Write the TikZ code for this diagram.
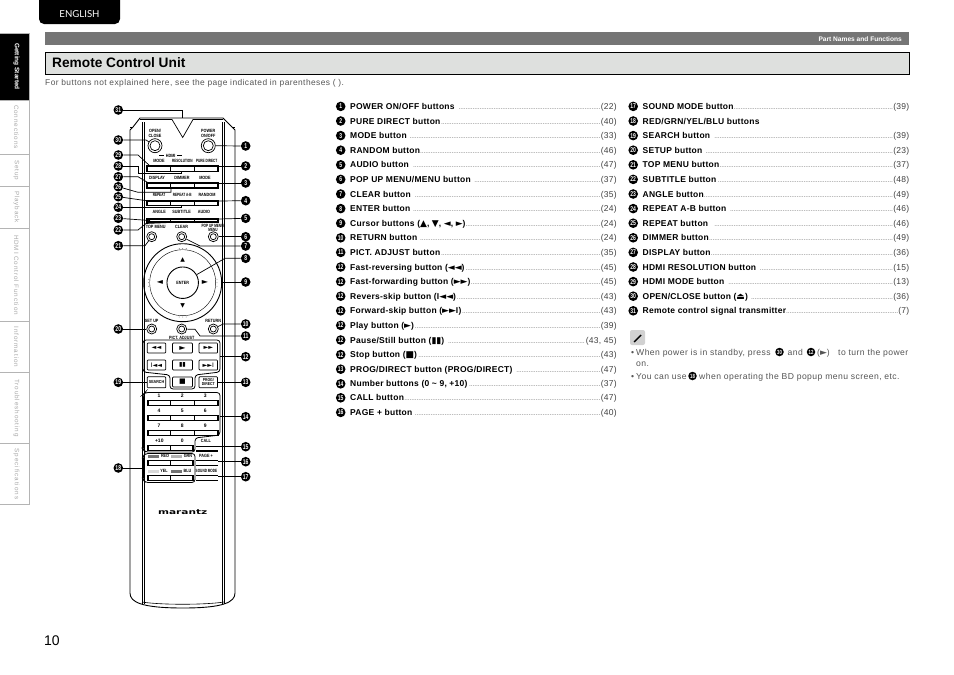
\documentclass[tikz,border=0pt]{standalone}
\usepackage{fontspec}
\usepackage{graphicx}
\setmainfont{Liberation Sans}
\newfontfamily\symf{DejaVu Sans}
\newfontfamily\engf{Lato}
\newfontfamily\tabf[LetterSpace=14]{Liberation Sans}
\newfontfamily\notef[LetterSpace=5]{Liberation Sans}
\newfontfamily\listf[LetterSpace=3]{Liberation Sans}
\newfontfamily\lblf[FakeStretch=0.82]{Liberation Sans}
\newfontfamily\lblnf[FakeStretch=0.68]{Liberation Sans}
\newfontfamily\logof{DejaVu Sans}
\definecolor{tabgrey}{HTML}{B4B4B4}
\definecolor{tabtext}{HTML}{A8A8A8}
\definecolor{bargrey}{HTML}{757575}
\definecolor{titlegrey}{HTML}{DEE0DE}
\definecolor{notegrey}{HTML}{555555}
\newcommand\sz[1]{\fontsize{#1}{#1}\selectfont}
\newcommand\sy[1]{{\symf\sz{9}#1}}
\newcommand\syb[1]{{\symf\sz{6.2}#1}}
\newcommand\ldr{\textcolor{gray}{\leaders\hbox to 1.75pt{\hss\sz{5}.\hss}\hfil}}
\newcommand\numtxt[1]{\scalebox{.72}[1]{\bfseries #1}}
\newcommand\ent[5]{%  number, x, y, label, page
  \node[numc] (L#1) at (#2,#3) {\numtxt{#1}};
  \node[entrytext] (T#1) at (#2+9.3,#3+3) {\hbox to 266.5pt{\bfseries #4\ldr\textcolor{black!75}{\mdseries #5}}};}
\newcommand\entb[5]{%  name, x, y, printed number, whole line
  \node[numc] (L#1b) at (#2,#3) {\numtxt{#4}};
  \node[entrytext] (T#1b) at (#2+9.3,#3+3) {\hbox to 266.5pt{\bfseries #5}};}
\newcommand\barrow[5]{% name, x1, x2, y1, y2
  \draw[barline] (#2,#4) rectangle (#3,#5);
  \node[coordinate] (#1) at ({(#2+#3)/2},#5) {};}
\tikzset{
  x=1pt,y=-1pt,
  numc/.style={circle,fill=black,text=white,inner sep=0pt,minimum size=9.6pt,font=\sz{7}},
  entrytext/.style={anchor=base west,inner sep=0pt,font=\listf\sz{8.5}},
  tabtxt/.style={rotate=-90,inner sep=0pt,text=tabtext,font=\tabf\sz{6.3}},
  lead/.style={line width=.7pt,black},
  barline/.style={line width=1.4pt,black},
  cell/.style={line width=1.1pt,black},
  rbtn/.style={draw,line width=.7pt,rounded corners=.8pt,inner sep=0pt,minimum width=18.5pt,minimum height=10pt},
  lbl/.style={inner sep=0pt,font=\lblf\bfseries\sz{4.6},align=center},
  lbln/.style={inner sep=0pt,font=\lblnf\bfseries\sz{4.6},align=center},
  ring/.style={circle,draw,line width=.7pt,inner sep=0pt},
  notetxt/.style={anchor=base west,inner sep=0pt,text=notegrey,font=\notef\sz{8.6}},
  smallnum/.style={circle,fill=black,text=white,inner sep=0pt,minimum size=8.5pt,font=\sz{6}},
}
\begin{document}
\begin{tikzpicture}
\useasboundingbox (0,0) rectangle (954,675);
\fill[white] (0,0) rectangle (954,675);
% header
\path[fill=black,rounded corners=5pt] (39,-8) rectangle (120,24);
\node[inner sep=0pt,text=white,font=\engf\sz{9.6}] (lang) at (79.5,14) {ENGLISH};
\node[fill=bargrey,minimum width=864pt,minimum height=13pt,inner sep=0pt,anchor=north west] (bar) at (45,32) {};
\node[anchor=east,inner sep=0pt,text=white,font=\bfseries\sz{6.6}] (partn) at (902,38.7) {Part Names and Functions};
\node[fill=titlegrey,draw=black,line width=1.3pt,minimum width=864pt,minimum height=22pt,inner sep=0pt,anchor=north west] (titlebox) at (45,52) {};
\node[anchor=west,inner sep=0pt,font=\bfseries\sz{13.7}] (title) at (52,62.5) {Remote Control Unit};
\node[anchor=west,inner sep=0pt,text=notegrey,font=\notef\sz{8.4}] (sub) at (45,83) {For buttons not explained here, see the page indicated in parentheses ( ).};
\node[anchor=west,inner sep=0pt,font=\sz{14}] (pageno) at (44,641) {10};
% side tabs
\fill[black] (0,33) rectangle (29.5,100.5);
\draw[tabgrey,line width=.9pt] (0,33) -- (29.5,33);
\draw[tabgrey,line width=.9pt] (29.5,33) -- (29.5,504.3) -- (0,504.3);
\foreach \yy in {100.5,154,186,228,321.7,372.7,443.3} \draw[tabgrey,line width=.8pt] (0,\yy) -- (29.5,\yy);
\node[rotate=-90,inner sep=0pt,text=white,font=\bfseries\sz{6.5}] (tab1) at (16.5,66.5) {Getting Started};
\node[tabtxt] (tab2) at (16.5,127) {Connections};
\node[tabtxt] (tab3) at (16.5,170) {Setup};
\node[tabtxt] (tab4) at (16.5,207) {Playback};
\node[tabtxt] (tab5) at (16.5,275) {HDMI Control Function};
\node[tabtxt] (tab6) at (16.5,347) {Information};
\node[tabtxt] (tab7) at (16.5,408) {Troubleshooting};
\node[tabtxt] (tab8) at (16.5,474) {Specifications};
% remote body
\draw[line width=.9pt] (130,593) -- (130,130) -- (133,127) -- (140,118) -- (223,118) -- (232,127) -- (235,130) -- (235,593)
  .. controls (235,602) and (224,608) .. (183,608) .. controls (141,608) and (130,602) .. (130,593);
\draw[line width=.7pt] (130,127) -- (133,127) (232,127) -- (235,127);
\draw[line width=.7pt] (140,119.5) -- (172,119.5) -- (182.7,137.5) -- (193,119.5) -- (223,119.5);
\draw[line width=.7pt] (142,122) -- (142,604);
\draw[line width=.6pt] (144,122) -- (144,604);
\draw[line width=.7pt] (222,122) -- (222,604);
\draw[line width=.6pt] (224,122) -- (224,604);
\draw[line width=.6pt] (142,602) .. controls (160,605) and (205,605) .. (224,602);
% top buttons
\node[ring,minimum size=14pt] (openc) at (155,145.7) {};
\node[ring,minimum size=10pt] at (155,145.7) {};
\node[ring,minimum size=14pt] (powerc) at (208.3,145.7) {};
\node[ring,minimum size=10pt] at (208.3,145.7) {};
\node[lbl] (l1) at (155,133.5) {OPEN/\\[-.2pt]CLOSE};
\node[lbl] (l2) at (208.3,133.5) {POWER\\[-.2pt]ON/OFF};
\node[lbl] (l3) at (170.7,155.7) {HDMI};
\draw[line width=.5pt] (159,155.7) -- (164,155.7) (177,155.7) -- (182,155.7);
\node[lbl] (l4) at (159,160.9) {MODE};
\node[lbln] (l5) at (182.3,160.9) {RESOLUTION};
\node[lbln] (l6) at (206.7,160.9) {PURE DIRECT};
\node[lbl] (l7) at (157,178) {DISPLAY};
\node[lbl] (l8) at (182,178) {DIMMER};
\node[lbl] (l9) at (205,178) {MODE};
\node[lbln] (l10) at (159,195) {REPEAT};
\node[lbln] (l11) at (182.3,195) {REPEAT A-B};
\node[lbl] (l12) at (207,195) {RANDOM};
\node[lbl] (l13) at (159.3,212) {ANGLE};
\node[lbl] (l14) at (181.7,212) {SUBTITLE};
\node[lbl] (l15) at (204,212) {AUDIO};
\node[lbl] (l16) at (155.7,227.3) {TOP MENU};
\node[lbl] (l17) at (181.7,227.3) {CLEAR};
\node[lbln] (l18) at (213,227.7) {POP UP MENU/\\[-.2pt]MENU};
% bar rows
\barrow{r1}{147}{218}{166}{171.7}
\barrow{r2}{147}{218}{183}{188}
\barrow{r3}{147}{218}{201}{205.5}
\barrow{r4}{147}{218}{219}{222}
\foreach \yy/\zz in {166/171.7,183/188,201/205.5,219/222}
  \draw[cell] (170.7,\yy) -- (170.7,\zz) (194.3,\yy) -- (194.3,\zz);
% round buttons
\node[ring,minimum size=10pt] (topm) at (151.7,236.7) {};
\node[ring,minimum size=10pt] (clr) at (181.7,236.7) {};
\node[ring,minimum size=10pt] (popm) at (213.3,236.7) {};
\node[ring,minimum size=6pt] at (151.7,236.7) {};
\node[ring,minimum size=6pt] at (181.7,236.7) {};
\node[ring,minimum size=6pt] at (213.3,236.7) {};
% d-pad
\node[ring,minimum size=78pt,line width=.9pt] (dpad) at (182.7,282.7) {};
\node[ring,minimum size=66pt,line width=.4pt] (dpad2) at (182.7,282.7) {};
\node[ring,minimum size=31.5pt,line width=.9pt] (enter) at (182.7,282.7) {};
\node[lbl] (entl) at (182.7,282.7) {ENTER};
\node[inner sep=0pt,font=\symf\sz{6}] (au) at (182.7,259.5) {▲};
\node[inner sep=0pt,font=\symf\sz{6}] (ad) at (182.7,305.5) {▼};
\node[inner sep=0pt,font=\symf\sz{8}] (al) at (160,282.7) {◄};
\node[inner sep=0pt,font=\symf\sz{8}] (ar) at (205,282.7) {►};
\foreach \dx in {-3.5,0,3.5} {
  \fill[black!70] (182.7+\dx,248.5) circle (.45pt);
  \fill[black!70] (182.7+\dx,317) circle (.45pt);
  \fill[black!70] (148.5,282.7+\dx) circle (.45pt);
  \fill[black!70] (217,282.7+\dx) circle (.45pt);
}
% middle round buttons
\node[ring,minimum size=10pt] (setp) at (151.7,329) {};
\node[ring,minimum size=10pt] (pict) at (181.7,329) {};
\node[ring,minimum size=10pt] (ret) at (213.3,329) {};
\node[ring,minimum size=6pt] at (151.7,329) {};
\node[ring,minimum size=6pt] at (181.7,329) {};
\node[ring,minimum size=6pt] at (213.3,329) {};
\node[lbl] (l19) at (151.7,321) {SET UP};
\node[lbl] (l20) at (213.3,321) {RETURN};
\node[lbl] (l21) at (181.7,337.5) {PICT. ADJUST};
% transport group
\draw[line width=.8pt,rounded corners=3pt] (143,340) -- (220,340) -- (220,372) -- (195,375) -- (195,389) -- (170,389) -- (170,375) -- (143,372) -- cycle;
\node[rbtn] (b1) at (156.5,348) {\syb{◄◄}};
\node[rbtn,minimum width=20pt] (b2) at (182.5,348) {\symf\sz{8}►};
\node[rbtn] (b3) at (208.3,348) {\syb{►►}};
\node[rbtn] (b4) at (156.5,365) {\syb{I◄◄}};
\node[rbtn,minimum width=20pt] (b5) at (182.5,365) {\syb{▮▮}};
\node[rbtn] (b6) at (208.3,365) {\syb{►►I}};
\node[rbtn,minimum width=20pt] (b7) at (182.5,382) {\symf\sz{7}■};
\node[rbtn,minimum height=11pt,font=\lblf\bfseries\sz{4.4}] (b8) at (156.5,382.3) {SEARCH};
\node[rbtn,minimum height=11pt,align=center,font=\lblf\bfseries\sz{4.2}] (b9) at (208.3,382.3) {PROG/\\DIRECT};
% number group
\draw[line width=.8pt,rounded corners=3pt] (145,392.5) -- (220,392.5) -- (220,435) -- (195,438) -- (195,452) -- (145,452) -- (143.5,450) -- (143.5,394) -- cycle;
\draw[line width=.8pt,rounded corners=3pt] (145,453.5) -- (195,453.5) -- (195,482.5) -- (145,482.5) -- (143.5,480) -- (143.5,456) -- cycle;
\node[lbl,font=\bfseries\sz{5}] (n1l) at (159,396) {1};
\node[lbl,font=\bfseries\sz{5}] (n2l) at (182.3,396) {2};
\node[lbl,font=\bfseries\sz{5}] (n3l) at (205.3,396) {3};
\node[lbl,font=\bfseries\sz{5}] (n4l) at (159,411) {4};
\node[lbl,font=\bfseries\sz{5}] (n5l) at (182.3,411) {5};
\node[lbl,font=\bfseries\sz{5}] (n6l) at (205.3,411) {6};
\node[lbl,font=\bfseries\sz{5}] (n7l) at (159,426) {7};
\node[lbl,font=\bfseries\sz{5}] (n8l) at (182.3,426) {8};
\node[lbl,font=\bfseries\sz{5}] (n9l) at (205.3,426) {9};
\node[lbl,font=\bfseries\sz{5}] (n10l) at (159.3,440.7) {+10};
\node[lbl,font=\bfseries\sz{5}] (n0l) at (182.3,440.7) {0};
\node[lbl] (l22) at (206,440.7) {CALL};
\barrow{r5}{148}{218}{400.5}{405.5}
\barrow{r6}{148}{218}{415.5}{420.5}
\barrow{r7}{148}{218}{430.5}{435.5}
\foreach \yy/\zz in {400.5/405.5,415.5/420.5,430.5/435.5}
  \draw[cell] (170.7,\yy) -- (170.7,\zz) (194.3,\yy) -- (194.3,\zz);
\barrow{r8}{148}{193}{445.5}{450.5}
\draw[cell] (170.7,445.5) -- (170.7,450.5);
\barrow{r9}{148}{193}{460.7}{465.7}
\draw[cell] (170.7,460.7) -- (170.7,465.7);
\barrow{r10}{148}{193}{475.7}{480.7}
\draw[cell] (170.7,475.7) -- (170.7,480.7);
\draw[barline] (196,446.7) -- (218,446.7) (196,451) -- (218,451);
\draw[barline] (196,460.7) -- (218,460.7) (196,465.5) -- (218,465.5);
\draw[barline] (196,475.7) -- (218,475.7) (196,480.7) -- (218,480.7);
\fill[black!55] (148,454.5) rectangle (159,457.5);
\fill[black!30] (171,454.5) rectangle (182,457.5);
\fill[black!15] (148,469.5) rectangle (159,472.5);
\fill[black!55] (171,469.5) rectangle (182,472.5);
\node[lbl] (c1) at (165,456) {RED};
\node[lbl] (c2) at (188,456) {GRN};
\node[lbl] (c3) at (164,471) {YEL};
\node[lbl] (c4) at (187.5,471) {BLU};
\node[lbl] (l23) at (206,456) {PAGE +};
\node[lbln] (l24) at (206.5,471) {SOUND MODE};
\node[inner sep=0pt,font=\logof\bfseries\sz{8}] (logo) at (182.7,511.7) {\scalebox{1.32}[.85]{marantz}};
% diagram numbers
\foreach \nn/\yy in {31/110,30/140,29/155,28/166,27/176.7,26/186.7,25/196.7,24/207.3,23/218.3,22/230,21/245.7,20/329,19/382.3,18/468}
  \node[numc] (n\nn) at (118.3,\yy) {\numtxt{\nn}};
\foreach \nn/\yy in {1/146,2/166,3/183,4/200.7,5/218.3,6/236.7,7/246,8/258.3,9/282,10/324,11/336,12/356.7,13/382.3,14/416.7,15/446.7,16/461.7,17/476.7}
  \node[numc] (n\nn) at (245.7,\yy) {\numtxt{\nn}};
% target points
\coordinate (a31) at (182,118);
\coordinate (a2) at (218,166);
\coordinate (a3) at (218,183);
\coordinate (a4) at (218,201);
\coordinate (a5) at (218,219);
\coordinate (a29) at (150,166);
\coordinate (a28) at (181.7,171.7);
\coordinate (a27) at (148.5,183);
\coordinate (a26) at (171,188);
\coordinate (a25) at (148.5,201);
\coordinate (a24) at (181.7,205.5);
\coordinate (a23) at (150,220.5);
\coordinate (a22) at (181.7,222);
\coordinate (a9) at (221,282);
\coordinate (a12) at (220,356.7);
\coordinate (a14) at (220,416.7);
\coordinate (a18) at (143.5,468);
\coordinate (a15) at (218,446.7);
\coordinate (a16) at (218,461.7);
\coordinate (a17) at (218,476.7);
% leaders
\draw[lead] (n31) -- (182,110) -- (a31);
\draw[lead] (n30) -- (146,140) -- (openc);
\draw[lead] (n1) -- (powerc);
\draw[lead] (n2) -- (a2);
\draw[lead] (n3) -- (a3);
\draw[lead] (n4) -- (a4);
\draw[lead] (n5) -- (a5);
\draw[lead] (n6) -- (popm);
\draw[lead] (n7) -- (200,246) -- (clr);
\draw[lead] (n8) -- (225,258.3) -- (enter);
\draw[lead] (n9) -- (a9);
\draw[lead] (n10) -- (223,324) -- (ret);
\draw[lead] (n11) -- (200,336) -- (195,329.3) -- (pict);
\draw[lead] (n12) -- (a12);
\draw[lead] (n13) -- (b9);
\draw[lead] (n14) -- (a14);
\draw[lead] (n15) -- (a15);
\draw[lead] (n16) -- (a16);
\draw[lead] (n17) -- (a17);
\draw[lead] (n18) -- (a18);
\draw[lead] (n19) -- (b8);
\draw[lead] (n20) -- (setp);
\draw[lead] (n21) -- (145,245.7) -- (topm);
\draw[lead] (n22) -- (138,230) -- (146,223.5) -- (a22);
\draw[lead] (n23) -- (a23);
\draw[lead] (n24) -- (181.7,207.3) -- (a24);
\draw[lead] (n25) -- (a25);
\draw[lead] (n26) -- (138,192.3) -- (171,192.3) -- (a26);
\draw[lead] (n27) -- (138,176.7) -- (a27);
\draw[lead] (n28) -- (138,166) -- (138,173.5) -- (181.7,173.5) -- (a28);
\draw[lead] (n29) -- (138,155) -- (a29);
% list, left column
\ent{1}{340.7}{106.4}{POWER ON/OFF buttons\ }{(22)}
\ent{2}{340.7}{121}{PURE DIRECT button}{(40)}
\ent{3}{340.7}{135.6}{MODE button\ }{(33)}
\ent{4}{340.7}{150.2}{RANDOM button}{(46)}
\ent{5}{340.7}{164.8}{AUDIO button\ }{(47)}
\ent{6}{340.7}{179.4}{POP UP MENU/MENU button\ }{(37)}
\ent{7}{340.7}{194}{CLEAR button\ }{(35)}
\ent{8}{340.7}{208.6}{ENTER button\ }{(24)}
\ent{9}{340.7}{223.2}{Cursor buttons (\sy{▲}, \sy{▼}, \sy{◄}, \sy{►})}{(24)}
\ent{10}{340.7}{237.8}{RETURN button\ }{(24)}
\ent{11}{340.7}{252.4}{PICT. ADJUST button}{(35)}
\entb{12}{340.7}{267}{12}{Fast-reversing button (\sy{◄◄})\ldr\textcolor{black!75}{\mdseries (45)}}
\entb{12c}{340.7}{281.6}{12}{Fast-forwarding button (\sy{►►})\ldr\textcolor{black!75}{\mdseries (45)}}
\entb{12d}{340.7}{296.2}{12}{Revers-skip button (I\sy{◄◄})\ldr\textcolor{black!75}{\mdseries (43)}}
\entb{12e}{340.7}{310.8}{12}{Forward-skip button (\sy{►►}I)\ldr\textcolor{black!75}{\mdseries (43)}}
\entb{12f}{340.7}{325.4}{12}{Play button (\sy{►})\ldr\textcolor{black!75}{\mdseries (39)}}
\entb{12g}{340.7}{340}{12}{Pause/Still button (\sy{▮▮})\ \ldr\textcolor{black!75}{\mdseries (43, 45)}}
\entb{12h}{340.7}{354.6}{12}{Stop button (\sy{■})\ldr\textcolor{black!75}{\mdseries (43)}}
\ent{13}{340.7}{369.2}{PROG/DIRECT button (PROG/DIRECT)\ }{(47)}
\ent{14}{340.7}{383.8}{Number buttons (0 \char"007E{} 9, +10)}{(37)}
\ent{15}{340.7}{397.8}{CALL button}{(47)}
\ent{16}{340.7}{412.4}{PAGE + button\ }{(40)}
% list, right column
\ent{17}{633.2}{106.4}{SOUND MODE button}{(39)}
\entb{18}{633.2}{121}{18}{RED/GRN/YEL/BLU buttons\hfil}
\ent{19}{633.2}{135.6}{SEARCH button\ }{(39)}
\ent{20}{633.2}{150.2}{SETUP button\ }{(23)}
\ent{21}{633.2}{164.8}{TOP MENU button}{(37)}
\ent{22}{633.2}{179.4}{SUBTITLE button}{(48)}
\ent{23}{633.2}{194}{ANGLE button}{(49)}
\ent{24}{633.2}{208.6}{REPEAT A-B button\ }{(46)}
\ent{25}{633.2}{223.2}{REPEAT button\ \ }{(46)}
\ent{26}{633.2}{237.8}{DIMMER button}{(49)}
\ent{27}{633.2}{252.4}{DISPLAY button}{(36)}
\ent{28}{633.2}{267}{HDMI RESOLUTION button\ }{(15)}
\ent{29}{633.2}{281.6}{HDMI MODE button\ }{(13)}
\ent{30}{633.2}{296.2}{OPEN/CLOSE button (\sy{⏏})\ }{(36)}
\ent{31}{633.2}{310.8}{Remote control signal transmitter}{(7)}
% note
\path[fill=black!18,rounded corners=2pt] (630,330) rectangle (645,345);
\draw[line width=1.4pt] (634,342) -- (641,335);
\node[notetxt] (t0) at (631,355) {•};
\node[notetxt] (t1) at (636,355) {When power is in standby, press};
\node[smallnum] (s1) at (779.5,352) {\numtxt{30}};
\node[notetxt] (t2) at (787.5,355) {and};
\node[smallnum] (s2) at (811,352) {\numtxt{12}};
\node[notetxt] (t3) at (817,355) {(\sy{►})};
\node[notetxt,anchor=base east] (t3b) at (908.5,355) {to turn the power};
\node[notetxt] (t4) at (636,366) {on.};
\node[notetxt] (t5a) at (631,379) {•};
\node[notetxt] (t5) at (636,379) {You can use};
\node[smallnum] (s3) at (692.5,376) {\numtxt{18}};
\node[notetxt] (t6) at (699,379) {when operating the BD popup menu screen, etc.};
\end{tikzpicture}
\end{document}
